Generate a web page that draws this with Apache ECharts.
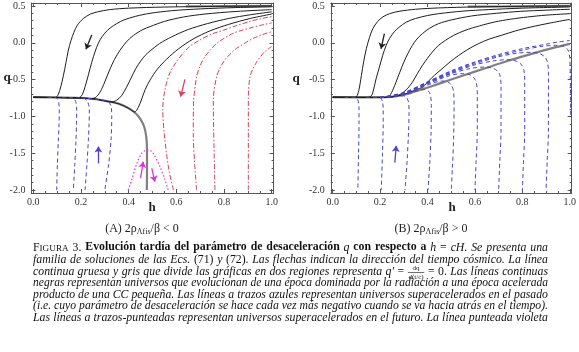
<!DOCTYPE html>
<html><head><meta charset="utf-8">
<script src="https://cdn.jsdelivr.net/npm/echarts@6/dist/echarts.min.js"></script>
<style>html,body{margin:0;padding:0;background:#fff}#c{width:579px;height:352px}</style>
</head><body><div id="c"></div>
<script>
// ---------- tick values ----------
const H_MAJOR=[0,0.2,0.4,0.6,0.8,1.0];
const H_MINOR=[0.05,0.1,0.15,0.25,0.3,0.35,0.45,0.5,0.55,0.65,0.7,0.75,0.85,0.9,0.95];
const Q_MAJOR=[-2.0,-1.5,-1.0,-0.5,0.0,0.5];
const Q_MINOR=[-1.9,-1.8,-1.7,-1.6,-1.4,-1.3,-1.2,-1.1,-0.9,-0.8,-0.7,-0.6,-0.4,-0.3,-0.2,-0.1,0.1,0.2,0.3,0.4];

// ---------- panel A data [h, q] ----------
const A_gray=[[0,-0.74],[0.1,-0.742],[0.2,-0.75],[0.26,-0.765],[0.32,-0.80],[0.36,-0.83],[0.40,-0.89],[0.43,-0.96],[0.45,-1.04],[0.465,-1.14],[0.474,-1.28],[0.477,-1.46],[0.477,-1.75],[0.476,-2.0]];
const A_grayTop=[[0.64,0.495],[0.8,0.497],[1.0,0.5]];
const A_black1=[[0,-0.74],[0.08,-0.742],[0.095,-0.74],[0.105,-0.70],[0.115,-0.60],[0.126,-0.45],[0.137,-0.27],[0.147,-0.10],[0.158,0.03],[0.170,0.14],[0.185,0.24],[0.21,0.33],[0.24,0.39],[0.27,0.42],[0.32,0.45],[0.40,0.47],[0.55,0.485],[0.75,0.493],[1.0,0.50]];
const A_black2=[[0,-0.74],[0.17,-0.745],[0.19,-0.745],[0.20,-0.73],[0.21,-0.67],[0.224,-0.52],[0.238,-0.35],[0.252,-0.19],[0.266,-0.06],[0.28,0.04],[0.30,0.13],[0.322,0.20],[0.35,0.26],[0.38,0.31],[0.43,0.36],[0.49,0.40],[0.58,0.435],[0.70,0.46],[0.85,0.478],[1.0,0.488]];
const A_black3=[[0,-0.74],[0.2,-0.75],[0.24,-0.76],[0.26,-0.745],[0.28,-0.67],[0.30,-0.53],[0.32,-0.37],[0.34,-0.23],[0.364,-0.10],[0.39,0.01],[0.42,0.10],[0.46,0.18],[0.49,0.22],[0.55,0.29],[0.63,0.35],[0.72,0.39],[0.85,0.425],[1.0,0.45]];
const A_black4=[[0,-0.74],[0.2,-0.75],[0.26,-0.765],[0.32,-0.80],[0.335,-0.80],[0.35,-0.78],[0.37,-0.72],[0.39,-0.61],[0.41,-0.48],[0.43,-0.35],[0.45,-0.25],[0.47,-0.17],[0.49,-0.11],[0.53,-0.01],[0.58,0.08],[0.65,0.18],[0.73,0.26],[0.82,0.33],[0.91,0.38],[1.0,0.42]];
const A_black5=[[0,-0.74],[0.2,-0.75],[0.26,-0.765],[0.32,-0.80],[0.36,-0.83],[0.40,-0.89],[0.425,-0.94],[0.44,-0.88],[0.455,-0.76],[0.47,-0.63],[0.49,-0.505],[0.52,-0.36],[0.56,-0.22],[0.61,-0.08],[0.67,0.05],[0.74,0.16],[0.82,0.25],[0.91,0.33],[1.0,0.39]];
const A_blue1=[[0.06,-0.742],[0.09,-0.745],[0.098,-0.75],[0.106,-0.80],[0.109,-0.91],[0.108,-1.1],[0.105,-1.32],[0.101,-1.65],[0.098,-2.0]];
const A_blue2=[[0.12,-0.744],[0.158,-0.746],[0.168,-0.75],[0.178,-0.80],[0.182,-0.91],[0.181,-1.1],[0.179,-1.32],[0.174,-1.65],[0.168,-2.0]];
const A_blue3=[[0.15,-0.745],[0.205,-0.75],[0.217,-0.76],[0.228,-0.80],[0.235,-0.91],[0.234,-1.1],[0.231,-1.32],[0.225,-1.65],[0.217,-2.0]];
const A_blue4=[[0.2,-0.75],[0.26,-0.765],[0.30,-0.785],[0.318,-0.81],[0.327,-0.88],[0.329,-1.0],[0.326,-1.32],[0.316,-1.65],[0.30,-2.0]];
const A_red1=[[0.588,-2.0],[0.57,-1.75],[0.552,-1.32],[0.543,-0.91],[0.552,-0.64],[0.573,-0.41],[0.60,-0.26],[0.629,-0.14],[0.66,-0.04],[0.70,0.04],[0.75,0.12],[0.797,0.17],[0.85,0.23],[0.909,0.29],[0.95,0.325],[1.0,0.355]];
const A_red2=[[0.685,-2.0],[0.676,-1.6],[0.671,-1.23],[0.672,-0.83],[0.685,-0.46],[0.70,-0.31],[0.72,-0.19],[0.745,-0.09],[0.769,-0.01],[0.80,0.06],[0.839,0.13],[0.875,0.17],[0.909,0.20],[0.95,0.235],[1.0,0.27]];
const A_red3=[[0.762,-2.0],[0.758,-1.4],[0.755,-0.78],[0.769,-0.46],[0.785,-0.33],[0.804,-0.23],[0.83,-0.14],[0.853,-0.075],[0.89,0.0],[0.923,0.06],[0.96,0.11],[1.0,0.15]];
const A_red4=[[0.902,-2.0],[0.902,-1.3],[0.902,-0.73],[0.909,-0.46],[0.922,-0.35],[0.937,-0.26],[0.955,-0.18],[0.972,-0.12],[1.0,-0.05]];
const A_magenta=[[0.398,-2.0],[0.413,-1.86],[0.434,-1.64],[0.455,-1.50],[0.468,-1.465],[0.48,-1.457],[0.492,-1.465],[0.503,-1.50],[0.531,-1.68],[0.552,-1.86],[0.566,-2.0]];
const A_arrowBlack=[[0.245,0.106],[0.221,-0.089]];
const A_arrowRed=[[0.636,-0.496],[0.618,-0.732]];
const A_arrowBlue=[[0.273,-1.64],[0.273,-1.41]];
const A_arrowMag1=[[0.45,-1.84],[0.461,-1.615]];
const A_arrowMag2=[[0.497,-1.705],[0.51,-1.887]];

// ---------- panel B data [h, q] ----------
const B_gray=[[0,-0.74],[0.15,-0.742],[0.22,-0.74],[0.27,-0.725],[0.32,-0.69],[0.38,-0.63],[0.44,-0.565],[0.49,-0.51],[0.56,-0.435],[0.64,-0.35],[0.74,-0.245],[0.85,-0.14],[0.93,-0.07],[1.0,-0.015]];
const B_grayTop=[[0.57,0.49],[0.8,0.495],[1.0,0.5]];
const B_black1=[[0,-0.74],[0.09,-0.742],[0.10,-0.735],[0.11,-0.65],[0.121,-0.445],[0.131,-0.25],[0.142,-0.08],[0.155,0.07],[0.169,0.19],[0.19,0.29],[0.211,0.35],[0.24,0.395],[0.28,0.427],[0.35,0.455],[0.447,0.473],[0.6,0.487],[0.8,0.495],[1.0,0.50]];
const B_black2=[[0,-0.74],[0.15,-0.742],[0.165,-0.71],[0.175,-0.60],[0.183,-0.49],[0.197,-0.33],[0.211,-0.17],[0.225,-0.04],[0.239,0.055],[0.26,0.15],[0.28,0.21],[0.31,0.28],[0.35,0.33],[0.40,0.37],[0.447,0.395],[0.55,0.43],[0.656,0.45],[0.8,0.47],[1.0,0.486]];
const B_black3=[[0,-0.74],[0.22,-0.742],[0.24,-0.72],[0.255,-0.63],[0.267,-0.536],[0.283,-0.40],[0.30,-0.264],[0.318,-0.14],[0.336,-0.036],[0.355,0.05],[0.378,0.123],[0.41,0.20],[0.447,0.26],[0.5,0.31],[0.586,0.364],[0.69,0.40],[0.794,0.427],[0.9,0.443],[1.0,0.455]];
const B_black4=[[0,-0.74],[0.22,-0.742],[0.26,-0.73],[0.28,-0.71],[0.31,-0.64],[0.336,-0.536],[0.357,-0.42],[0.378,-0.31],[0.40,-0.21],[0.42,-0.127],[0.445,-0.04],[0.475,0.032],[0.51,0.10],[0.558,0.168],[0.62,0.23],[0.683,0.282],[0.75,0.32],[0.822,0.35],[0.9,0.375],[1.0,0.395]];
const B_black5=[[0,-0.74],[0.22,-0.742],[0.27,-0.725],[0.31,-0.69],[0.35,-0.64],[0.38,-0.60],[0.406,-0.514],[0.43,-0.44],[0.461,-0.355],[0.495,-0.26],[0.531,-0.173],[0.57,-0.09],[0.614,-0.014],[0.66,0.05],[0.711,0.10],[0.77,0.16],[0.836,0.214],[0.92,0.27],[1.0,0.318]];
const B_blue1=[[0.05,-0.742],[0.09,-0.742],[0.102,-0.75],[0.108,-0.80],[0.111,-0.90],[0.111,-1.1],[0.109,-1.5],[0.106,-2.0]];
const B_blue2=[[0.14,-0.742],[0.19,-0.742],[0.203,-0.75],[0.21,-0.80],[0.213,-0.90],[0.213,-1.1],[0.21,-1.5],[0.205,-2.0]];
const B_blue3=[[0.2,-0.742],[0.27,-0.73],[0.30,-0.72],[0.313,-0.75],[0.32,-0.81],[0.322,-0.95],[0.32,-1.2],[0.314,-1.6],[0.305,-2.0]];
const B_blue4=[[0.2,-0.742],[0.27,-0.725],[0.33,-0.68],[0.37,-0.64],[0.39,-0.635],[0.405,-0.66],[0.413,-0.72],[0.416,-0.85],[0.415,-1.2],[0.41,-1.6],[0.402,-2.0]];
const B_blue5=[[0.2,-0.742],[0.3,-0.70],[0.36,-0.63],[0.42,-0.55],[0.46,-0.52],[0.485,-0.53],[0.502,-0.58],[0.51,-0.67],[0.512,-0.85],[0.51,-1.3],[0.505,-1.7],[0.50,-2.0]];
const B_blue6=[[0.2,-0.742],[0.3,-0.695],[0.4,-0.56],[0.48,-0.46],[0.54,-0.42],[0.575,-0.43],[0.597,-0.48],[0.607,-0.56],[0.61,-0.7],[0.61,-1.2],[0.605,-1.6],[0.60,-2.0]];
const B_blue7=[[0.2,-0.742],[0.3,-0.69],[0.4,-0.55],[0.5,-0.42],[0.58,-0.35],[0.64,-0.33],[0.675,-0.345],[0.697,-0.39],[0.707,-0.46],[0.71,-0.6],[0.71,-1.2],[0.705,-1.6],[0.70,-2.0]];
const B_blue8=[[0.2,-0.742],[0.3,-0.69],[0.4,-0.545],[0.5,-0.41],[0.6,-0.30],[0.68,-0.245],[0.74,-0.23],[0.775,-0.25],[0.797,-0.30],[0.807,-0.38],[0.81,-0.5],[0.81,-1.2],[0.805,-1.6],[0.80,-2.0]];
const B_blue9=[[0.2,-0.742],[0.3,-0.685],[0.4,-0.54],[0.5,-0.40],[0.6,-0.285],[0.7,-0.19],[0.78,-0.14],[0.84,-0.13],[0.875,-0.15],[0.897,-0.20],[0.907,-0.28],[0.91,-0.4],[0.91,-1.2],[0.905,-1.6],[0.90,-2.0]];
const B_blue10=[[0.2,-0.742],[0.3,-0.68],[0.4,-0.535],[0.5,-0.39],[0.6,-0.27],[0.7,-0.175],[0.8,-0.10],[0.88,-0.05],[0.94,-0.035],[0.975,-0.05],[0.993,-0.1],[1.0,-0.2],[1.003,-0.6],[1.004,-1.0]];
const B_blueTop=[[0.2,-0.742],[0.3,-0.675],[0.4,-0.53],[0.5,-0.38],[0.6,-0.26],[0.7,-0.16],[0.8,-0.08],[0.9,-0.02],[0.95,0.01],[1.0,0.03]];
const B_arrowBlack=[[0.218,0.123],[0.204,-0.082]];
const B_arrowBlue=[[0.262,-1.627],[0.268,-1.40]];

// ---------- texts ----------
const SUBCAP_A=['(A) 2ρ','Λfis','/β < 0'];
const SUBCAP_B=['(B) 2ρ','Λfis','/β > 0'];
const CAPTION=[
  [['scB','F'],['scS','IGURA'],['r',' 3. '],['b','Evolución tardía del parámetro de desaceleración '],['i','q'],['b',' con respecto a '],['i','h'],['r',' = '],['i','cH'],['i','. Se presenta una']],
  [['i','familia de soluciones de las Ecs. '],['r','(71)'],['i',' y '],['r','(72)'],['i','. Las flechas indican la dirección del tiempo cósmico. La línea']],
  [['i','continua gruesa y gris que divide las gráficas en dos regiones representa '],['i','q′'],['r',' = '],['frac','dq|d(t/c)'],['r',' = 0. '],['i','Las líneas continuas']],
  [['i','negras representan universos que evolucionan de una época dominada por la radiación a una época acelerada']],
  [['i','producto de una CC pequeña. Las líneas a trazos azules representan universos superacelerados en el pasado']],
  [['i','(i.e. cuyo parámetro de desaceleración se hace cada vez más negativo cuando se va hacia atrás en el tiempo).']],
  [['i','Las líneas a trazos-punteadas representan universos superacelerados en el futuro. La línea punteada violeta']]
];

// ---------- layout constants ----------
const XMIN=-0.008, XMAX=1.008, YMIN=-2.04, YMAX=0.54;
const FRAME='#555', LBL='#333';
const SERIF='"Liberation Serif","Times New Roman",serif';

const chart=echarts.init(document.getElementById('c'),null,{renderer:'canvas'});

const grids=[{left:31.4,top:3,width:242.2,height:190},{left:330.8,top:3,width:243.8,height:190}];
const xAxes=[], yAxes=[];
[0,1].forEach(p=>{
  ['bottom','top'].forEach(pos=>{
    xAxes.push({gridIndex:p,type:'value',min:XMIN,max:XMAX,position:pos,
      axisLine:{show:true,onZero:false,lineStyle:{color:FRAME,width:1}},
      axisTick:{show:true,inside:true,length:4,customValues:H_MAJOR,lineStyle:{color:FRAME}},
      axisLabel:{show:pos==='bottom',customValues:H_MAJOR,formatter:v=>v.toFixed(1),margin:4,color:LBL,fontFamily:SERIF,fontSize:10},
      splitLine:{show:false}});
    xAxes.push({gridIndex:p,type:'value',min:XMIN,max:XMAX,position:pos,
      axisLine:{show:false,onZero:false},axisTick:{show:true,inside:true,length:2,customValues:H_MINOR,lineStyle:{color:FRAME}},
      axisLabel:{show:false},splitLine:{show:false}});
  });
  ['left','right'].forEach(pos=>{
    yAxes.push({gridIndex:p,type:'value',min:YMIN,max:YMAX,position:pos,
      axisLine:{show:true,onZero:false,lineStyle:{color:FRAME,width:1}},
      axisTick:{show:true,inside:true,length:4,customValues:Q_MAJOR,lineStyle:{color:FRAME}},
      axisLabel:{show:pos==='left',customValues:Q_MAJOR,formatter:v=>v.toFixed(1),margin:6,color:LBL,fontFamily:SERIF,fontSize:10},
      splitLine:{show:false}});
    yAxes.push({gridIndex:p,type:'value',min:YMIN,max:YMAX,position:pos,
      axisLine:{show:false,onZero:false},axisTick:{show:true,inside:true,length:2,customValues:Q_MINOR,lineStyle:{color:FRAME}},
      axisLabel:{show:false},splitLine:{show:false}});
  });
});

function curve(p,data,color,width,type,z){
  return {type:'line',xAxisIndex:p*4,yAxisIndex:p*4,data:data,showSymbol:false,symbol:'none',
    smooth:0.3,lineStyle:{color:color,width:width,type:type},z:z||2,silent:true,animation:false};
}
function arrow(p,data,color){
  return {type:'lines',coordinateSystem:'cartesian2d',xAxisIndex:p*4,yAxisIndex:p*4,
    symbol:['none','arrow'],symbolSize:6,lineStyle:{color:color,width:1.3,opacity:1,curveness:0},
    data:[{coords:data}],z:6,silent:true,animation:false};
}
const BLACK='#1e1e1e', GRAY='#808080', BLUE='#4a44cc', RED='#d8405a', MAG='#e030e6';
const DASH=[4,3], DASHDOT=[5,2,1.5,2], DOT=[1.5,2];
const series=[
  curve(0,A_gray,GRAY,2.2,'solid',2), curve(0,A_grayTop,GRAY,2.2,'solid',2),
  curve(0,A_black1,BLACK,1,'solid',3),curve(0,A_black2,BLACK,1,'solid',3),curve(0,A_black3,BLACK,1,'solid',3),curve(0,A_black4,BLACK,1,'solid',3),curve(0,A_black5,BLACK,1,'solid',3),
  curve(0,A_blue1,BLUE,1,DASH,4),curve(0,A_blue2,BLUE,1,DASH,4),curve(0,A_blue3,BLUE,1,DASH,4),curve(0,A_blue4,BLUE,1,DASH,4),
  curve(0,A_red1,RED,1,DASHDOT,4),curve(0,A_red2,RED,1,DASHDOT,4),curve(0,A_red3,RED,1,DASHDOT,4),curve(0,A_red4,RED,1,DASHDOT,4),
  curve(0,A_magenta,MAG,1.2,DOT,4),
  arrow(0,A_arrowBlack,BLACK),arrow(0,A_arrowRed,RED),arrow(0,A_arrowBlue,BLUE),arrow(0,A_arrowMag1,MAG),arrow(0,A_arrowMag2,MAG),
  curve(1,B_gray,GRAY,2.2,'solid',2), curve(1,B_grayTop,GRAY,2.2,'solid',2),
  curve(1,B_black1,BLACK,1,'solid',3),curve(1,B_black2,BLACK,1,'solid',3),curve(1,B_black3,BLACK,1,'solid',3),curve(1,B_black4,BLACK,1,'solid',3),curve(1,B_black5,BLACK,1,'solid',3),
  curve(1,B_blue1,BLUE,1,DASH,4),curve(1,B_blue2,BLUE,1,DASH,4),curve(1,B_blue3,BLUE,1,DASH,4),curve(1,B_blue4,BLUE,1,DASH,4),curve(1,B_blue5,BLUE,1,DASH,4),
  curve(1,B_blue6,BLUE,1,DASH,4),curve(1,B_blue7,BLUE,1,DASH,4),curve(1,B_blue8,BLUE,1,DASH,4),curve(1,B_blue9,BLUE,1,DASH,4),curve(1,B_blue10,BLUE,1,DASH,4),curve(1,B_blueTop,BLUE,1,DASH,4),
  arrow(1,B_arrowBlack,BLACK),arrow(1,B_arrowBlue,BLUE)
];

// ---------- text graphics ----------
const graphics=[];
function axisName(txt,x,y){
  graphics.push({type:'text',x:x,y:y,style:{text:txt,font:'bold 13px '+SERIF,fill:'#222',align:'center',verticalAlign:'middle'}});
}
axisName('q',7,78); axisName('h',152,208);
axisName('q',296,79); axisName('h',452,208);
function subcap(parts,cx,cy){
  graphics.push({type:'text',x:cx,y:cy,style:{
    text:'{a|'+parts[0]+'}{s|'+parts[1]+'}{a|'+parts[2]+'}',align:'center',verticalAlign:'middle',
    rich:{a:{font:'12px '+SERIF,fill:'#222',lineHeight:15},s:{font:'8px '+SERIF,fill:'#222',lineHeight:15,padding:[5,0,0,0]}}}});
}
subcap(SUBCAP_A,142,229); subcap(SUBCAP_B,431,229);

// caption: each line sized to fit the column, then justified
const ctx=document.createElement('canvas').getContext('2d');
function fontsFor(fs){
  return {scB:fs+'px '+SERIF, scS:(fs*0.78)+'px '+SERIF, r:fs+'px '+SERIF, b:'bold '+fs+'px '+SERIF, i:'italic '+fs+'px '+SERIF, frac:(fs*0.6)+'px '+SERIF};
}
function tw(font,t){ctx.font=font;return ctx.measureText(t).width;}
function pieceWidth(F,st,t){
  if(st==='frac'){const [n,d]=t.split('|');return Math.max(tw(F.frac,n),tw(F.frac,d))+2;}
  return tw(F[st],t);
}
function buildWords(segs){
  const words=[];let cur=null;let pend=true;
  segs.forEach(([st,txt])=>{
    if(st==='frac'){ if(pend||!cur){cur=[];words.push(cur);pend=false;} cur.push([st,txt]); return; }
    const parts=txt.split(' ');
    parts.forEach((p,i)=>{
      if(i>0) pend=true;
      if(p==='') return;
      if(pend||!cur){cur=[];words.push(cur);pend=false;}
      cur.push([st,p]);
    });
  });
  return words;
}
const CAP_LEFT=33, CAP_RIGHT=548, CAP_MAXFS=11.8;
const CAP_Y=[248,260,272,284,295.5,307,318.5];
CAPTION.forEach((segs,li)=>{
  const words=buildWords(segs);
  const F10=fontsFor(10);
  const w10=words.reduce((s,w)=>s+w.reduce((a,[st,t])=>a+pieceWidth(F10,st,t),0),0)+(words.length-1)*tw(F10.r,' ');
  const fs=Math.min(CAP_MAXFS,10*(CAP_RIGHT-CAP_LEFT)/w10);
  const F=fontsFor(fs);
  const widths=words.map(w=>w.reduce((s,[st,t])=>s+pieceWidth(F,st,t),0));
  const total=widths.reduce((a,b)=>a+b,0);
  const gap=(CAP_RIGHT-CAP_LEFT-total)/(words.length-1);
  const yc=CAP_Y[li];
  let x=CAP_LEFT;
  words.forEach(w=>{
    w.forEach(([st,t])=>{
      const wd=pieceWidth(F,st,t);
      if(st==='frac'){
        const [n,d]=t.split('|');
        graphics.push({type:'text',x:x+wd/2,y:yc-0.2,style:{text:n,font:F.frac,fill:'#111',align:'center',verticalAlign:'bottom'}});
        graphics.push({type:'text',x:x+wd/2,y:yc+1.2,style:{text:d,font:F.frac,fill:'#111',align:'center',verticalAlign:'top'}});
        graphics.push({type:'line',shape:{x1:x+0.5,y1:yc+0.5,x2:x+wd-0.5,y2:yc+0.5},style:{stroke:'#111',lineWidth:0.6}});
      } else {
        graphics.push({type:'text',x:x,y:yc+fs*0.46,style:{text:t,font:F[st],fill:'#111',align:'left',verticalAlign:'bottom'}});
      }
      x+=wd;
    });
    x+=gap;
  });
});

chart.setOption({animation:false,backgroundColor:'#fff',grid:grids,xAxis:xAxes,yAxis:yAxes,series:series,graphic:graphics});
</script></body></html>
